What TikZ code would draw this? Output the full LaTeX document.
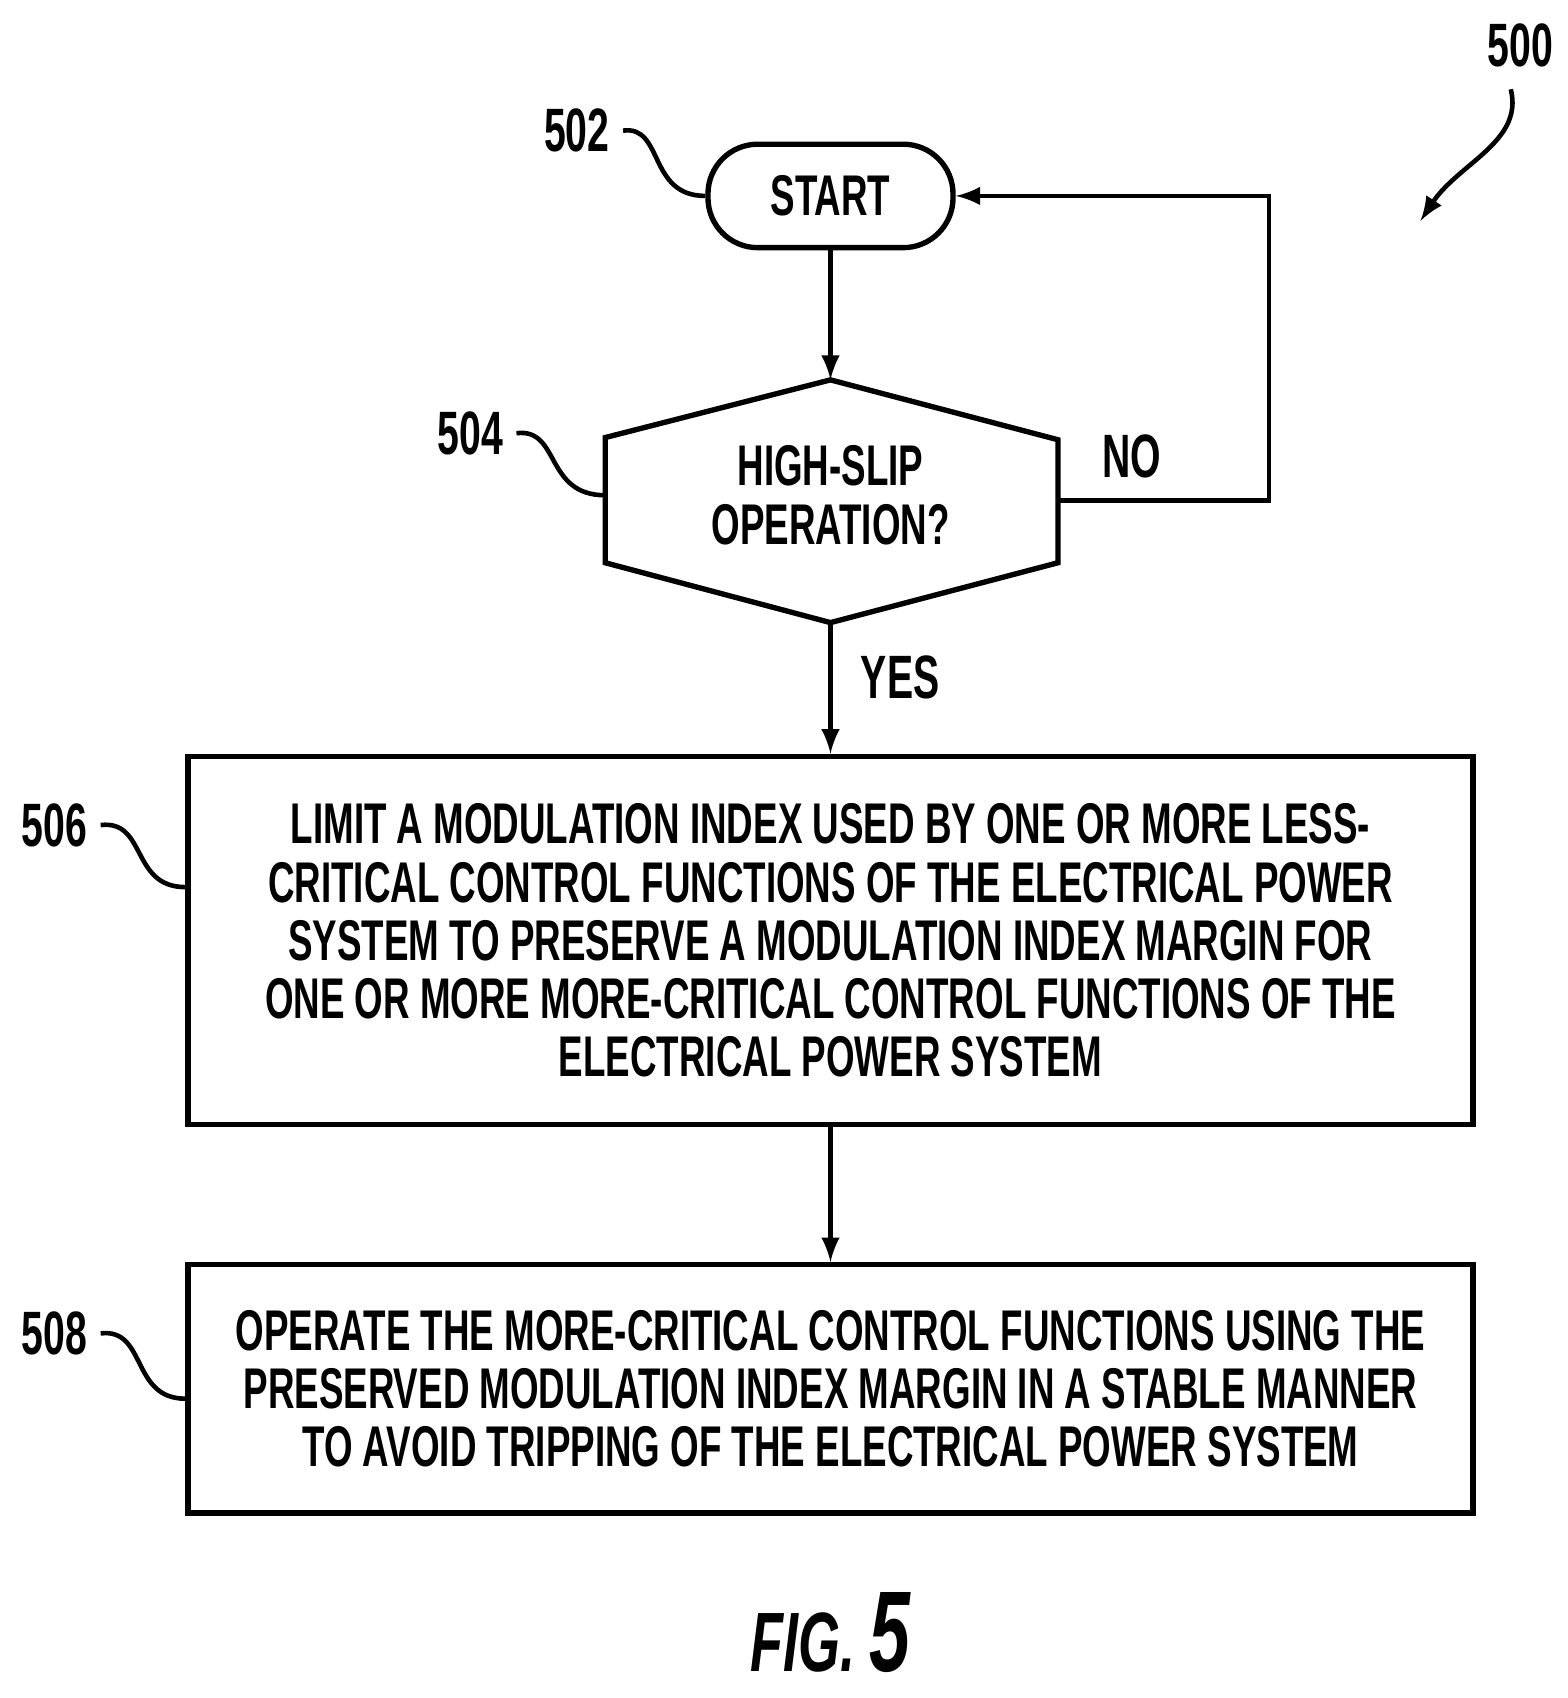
\documentclass[tikz,border=0pt]{standalone}
\usepackage{fontspec}
\setmainfont{Liberation Sans}[FakeStretch=0.64]
\usetikzlibrary{positioning}
\tikzset{
  box/.style={draw, line width=1.4pt, align=center, font=\bfseries\fontsize{15}{15.2}\selectfont},
  lbl/.style={font=\bfseries\fontsize{16}{18}\selectfont},
  lead/.style={line width=1.2pt},
  flow/.style={line width=1.2pt, -latex}
}
\begin{document}
\begin{tikzpicture}[x=0.01cm, y=-0.01cm]
\useasboundingbox (0,0) rectangle (1440,1560);
% blocks
\node[box, rounded corners=13pt, minimum width=2.25cm, minimum height=0.95cm] (start) at (763,180) {START};
\coordinate (dt) at (763,349);
\coordinate (db) at (763,572);
\draw[line width=1.4pt] (dt) -- (972,404) -- (972,517) -- (db) -- (556,517) -- (556,402) -- cycle;
\node[box, draw=none] (dec) at (763,455) {HIGH-SLIP\\OPERATION?};
\coordinate (dl) at (556,455);
\coordinate (dr) at (972,460);
\node[box, minimum width=11.8cm, minimum height=3.38cm] (lim) at (763,864) {LIMIT A MODULATION INDEX USED BY ONE OR MORE LESS-\\CRITICAL CONTROL FUNCTIONS OF THE ELECTRICAL POWER\\SYSTEM TO PRESERVE A MODULATION INDEX MARGIN FOR\\ONE OR MORE MORE-CRITICAL CONTROL FUNCTIONS OF THE\\ELECTRICAL POWER SYSTEM};
\node[box, minimum width=11.8cm, minimum height=2.28cm] (op) at (763,1276) {OPERATE THE MORE-CRITICAL CONTROL FUNCTIONS USING THE\\PRESERVED MODULATION INDEX MARGIN IN A STABLE MANNER\\TO AVOID TRIPPING OF THE ELECTRICAL POWER SYSTEM};
% connectors
\draw[flow] (start) -- (dt);
\draw[flow] (db) -- node[lbl, right=4pt, pos=0.42] {YES} (lim);
\draw[flow] (dr) -- node[lbl, above=2pt, pos=0.35] {NO} (1166,460) -- (1166,180) -- (start);
\draw[flow] (lim) -- (op);
% reference numerals
\node[lbl] (n502) at (530,120) {502};
\draw[lead] (n502.east) .. controls (610,115) and (595,180) .. (start.west);
\node[lbl] (n504) at (432,398) {504};
\draw[lead] (n504.east) .. controls (515,393) and (500,455) .. (dl);
\node[lbl] (n506) at (50,758) {506};
\draw[lead] (n506.east) .. controls (135,753) and (120,815) .. (lim.west |- 0,815);
\node[lbl] (n508) at (50,1225) {508};
\draw[lead] (n508.east) .. controls (135,1220) and (120,1285) .. (op.west |- 0,1285);
\node[lbl] (n500) at (1397,42) {500};
\coordinate (a500) at (1305,203);
\draw[flow] (1388,82) .. controls (1400,130) and (1340,150) .. (a500);
\node[font=\bfseries\itshape\fontsize{22}{24}\selectfont] (fig) at (763,1500) {FIG. {\fontsize{30}{32}\selectfont 5}};
\end{tikzpicture}
\end{document}
